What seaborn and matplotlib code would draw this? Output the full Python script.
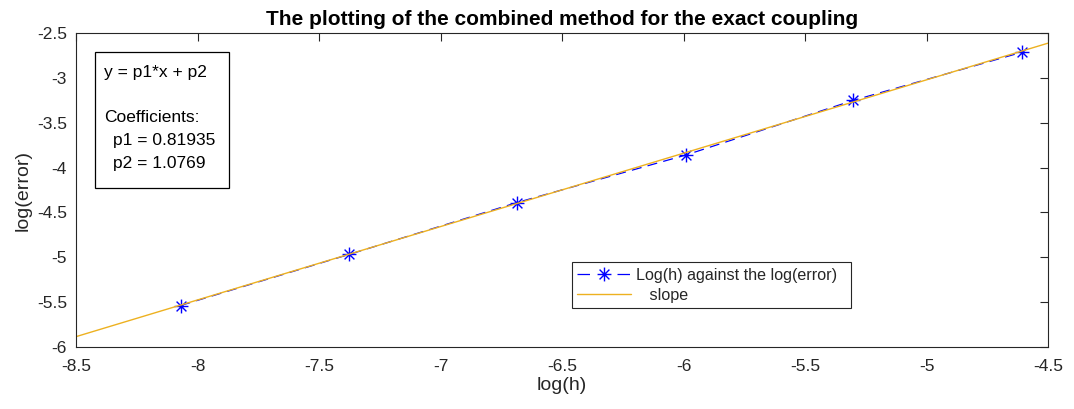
import matplotlib
matplotlib.use("Agg")
import matplotlib.pyplot as plt
from matplotlib.patches import Rectangle
from matplotlib.path import Path
import seaborn as sns
import pandas as pd

# Data
log_h = [-8.070, -7.377, -6.685, -5.991, -5.302, -4.605]
log_err = [-5.54, -4.97, -4.39, -3.86, -3.25, -2.71]
p1 = 0.81935
p2 = 1.0769
slope_x = [-8.5, -4.5]
slope_y = [p1 * v + p2 for v in slope_x]

x_ticks = [-8.5, -8, -7.5, -7, -6.5, -6, -5.5, -5, -4.5]
x_tick_labels = ["-8.5", "-8", "-7.5", "-7", "-6.5", "-6", "-5.5", "-5", "-4.5"]
y_ticks = [-6, -5.5, -5, -4.5, -4, -3.5, -3, -2.5]
y_tick_labels = ["-6", "-5.5", "-5", "-4.5", "-4", "-3.5", "-3", "-2.5"]

sns.set_style("white")
plt.rcParams['font.family'] = ['Liberation Sans', 'DejaVu Sans']

TXT = "#262626"
fig = plt.figure(figsize=(10.74, 4.09), dpi=100)
ax = fig.add_axes([0.0708, 0.1523, 0.9050, 0.7663])

df_pts = pd.DataFrame({"x": log_h, "y": log_err})
df_slope = pd.DataFrame({"x": slope_x, "y": slope_y})

# MATLAB-like 8-arm asterisk
ast = Path([(0, -1), (0, 1), (-1, 0), (1, 0),
            (-0.707, -0.707), (0.707, 0.707), (-0.707, 0.707), (0.707, -0.707)],
           [Path.MOVETO, Path.LINETO] * 4)

sns.lineplot(data=df_pts, x="x", y="y", ax=ax, color=(0, 0, 1), linewidth=0.9,
             marker=ast, markersize=10, markeredgewidth=1.0, markeredgecolor=(0, 0, 1),
             markerfacecolor="none", label="Log(h) against the log(error)", sort=False)
ax.lines[-1].set_dashes((8, 5))
sns.lineplot(data=df_slope, x="x", y="y", ax=ax, color=(0.929, 0.694, 0.125),
             linewidth=1.0, label="   slope", sort=False)

ax.set_xlim(-8.5, -4.5)
ax.set_ylim(-6, -2.5)
ax.set_xticks(x_ticks)
ax.set_xticklabels(x_tick_labels)
ax.set_yticks(y_ticks)
ax.set_yticklabels(y_tick_labels)
ax.tick_params(axis="both", direction="in", length=6, width=0.8, colors=TXT,
               labelsize=12.5, labelcolor=TXT, top=True, right=True)
ax.tick_params(axis="x", pad=9)
ax.tick_params(axis="y", pad=6.5)
for s in ax.spines.values():
    s.set_visible(True)
    s.set_color(TXT)
    s.set_linewidth(0.8)

ax.set_xlabel("log(h)", fontsize=14, color=TXT, labelpad=2)
ax.set_ylabel("log(error)", fontsize=14, color=TXT, labelpad=4)
ax.set_title("The plotting of the combined method for the exact coupling",
             fontsize=15, fontweight="bold", pad=6, color="black")

leg = ax.legend(loc="lower left", bbox_to_anchor=(0.510, 0.123, 0.287, 0.166),
                mode="expand", fontsize=11.6, frameon=True, fancybox=False,
                borderpad=0.35, borderaxespad=0, handlelength=3.3, handletextpad=0.35,
                labelspacing=0.3)
leg.get_frame().set_edgecolor(TXT)
leg.get_frame().set_linewidth(0.8)
leg.get_frame().set_alpha(1)
for h in leg.get_lines()[:1]:
    h.set_dashes((10, 22))

# Fit info box
ax.add_patch(Rectangle((0.0195, 0.506), 0.1379, 0.434, transform=ax.transAxes,
                       facecolor="white", edgecolor="black", linewidth=0.9, zorder=5))
box_lines = ["y = p1*x + p2", "Coefficients:", "p1 = %.5f" % p1, "p2 = %.4f" % p2]
box_x = [0.0288, 0.0288, 0.0381, 0.0381]
box_y = [0.875, 0.731, 0.659, 0.586]
for t, xx, yy in zip(box_lines, box_x, box_y):
    ax.text(xx, yy, t, transform=ax.transAxes, fontsize=12.5, va="center",
            ha="left", color="black", zorder=6)

fig.savefig("out.png", dpi=100)
